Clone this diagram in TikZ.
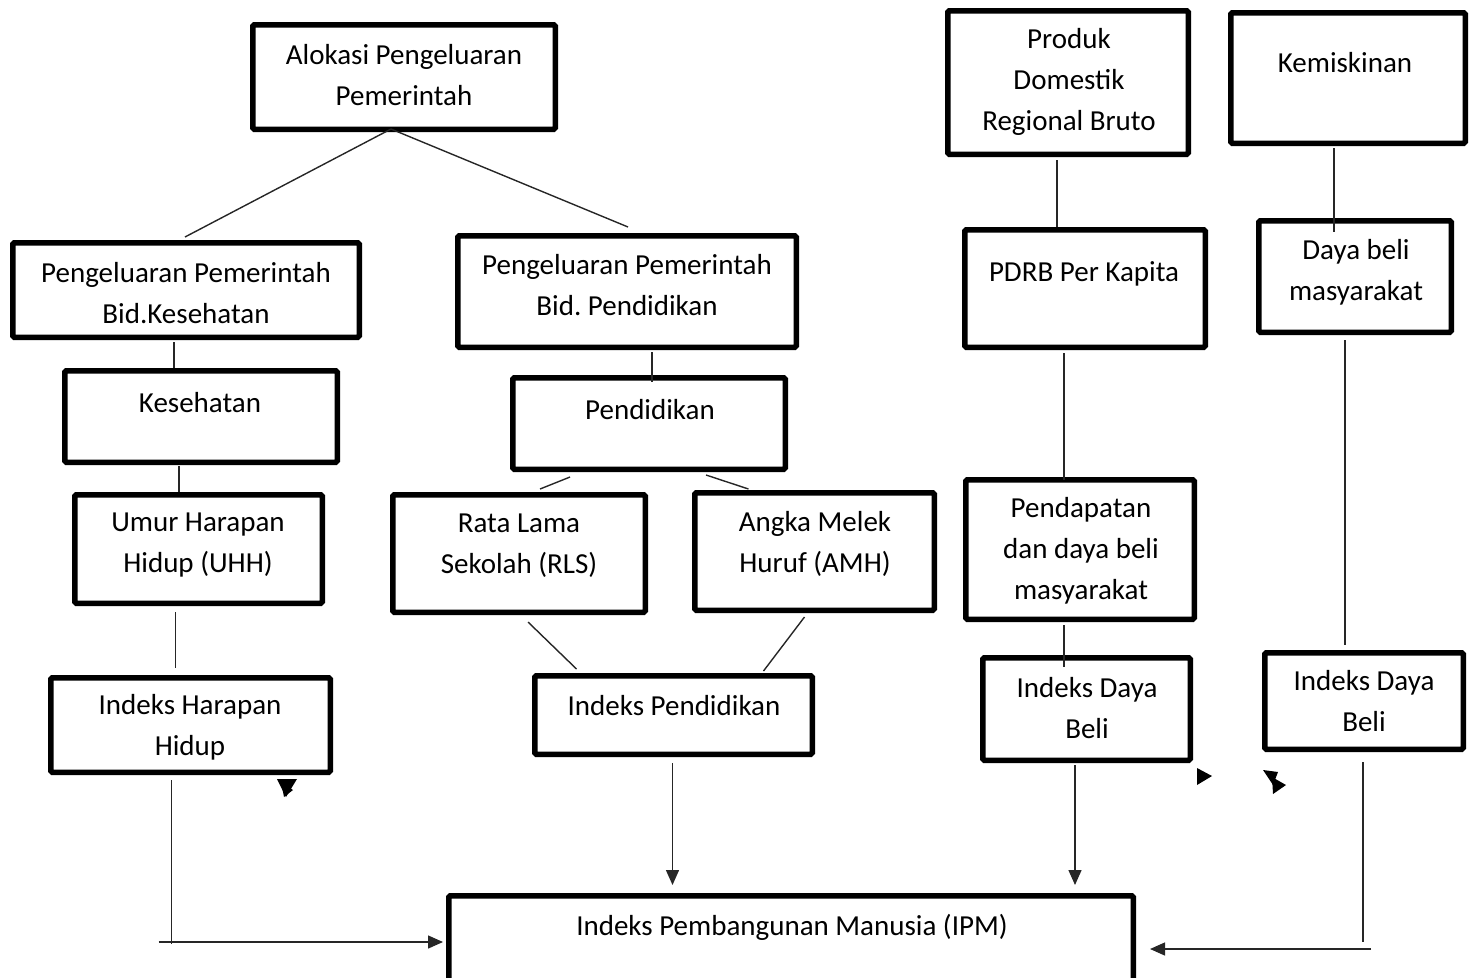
\documentclass[tikz,border=0pt]{standalone}
\usepackage{fontspec}
\setmainfont{Carlito}
\frenchspacing
\usetikzlibrary{calc,arrows.meta}
\tikzset{
  box/.style={draw=black, line width=5.5pt, rounded corners=1.5pt, inner sep=0pt},
  txt/.style={inner sep=0pt, align=center, font=\fontsize{29}{41}\selectfont},
  conn/.style={draw=black!85, line width=1.4pt},
  arr/.style={conn, -{Triangle[length=15pt,width=13pt]}},
  tip/.style={fill=black}
}
\newcommand\mkbox[5]{\node[box, minimum width={#3-#1-5.5}, minimum height={#4-#2-5.5}] (#5) at ({(#1+#3)/2},{(#2+#4)/2}) {};}
\begin{document}
\begin{tikzpicture}[x=1pt,y=-1pt]
\useasboundingbox (0,0) rectangle (1472,977);
% boxes
\mkbox{250}{22}{558}{132}{alok}
\mkbox{945}{8}{1191}{157}{prod}
\mkbox{1228}{10}{1468}{146}{kemis}
\mkbox{10}{240}{362}{340}{pkes}
\mkbox{455}{233}{799}{350}{ppend}
\mkbox{962}{227}{1208}{350}{pdrb}
\mkbox{1256}{218}{1454}{335}{daya}
\mkbox{62}{368}{340}{465}{kes}
\mkbox{510}{375}{788}{472}{pend}
\mkbox{72}{492}{325}{606}{uhh}
\mkbox{390}{492}{648}{615}{rls}
\mkbox{692}{490}{937}{613}{amh}
\mkbox{963}{477}{1197}{622}{pdpt}
\mkbox{48}{675}{333}{775}{ihh}
\mkbox{532}{673}{815}{757}{ip}
\mkbox{980}{655}{1193}{763}{idb1}
\mkbox{1262}{650}{1466}{752}{idb2}
\mkbox{446}{893}{1136}{1005}{ipm}
% texts
\node[txt] (alok-t) at (404,75.5) {Alokasi Pengeluaran\\Pemerintah};
\node[txt] (prod-t) at (1069,82) {Produk\\Domestik\\Regional Bruto};
\node[txt] (kemis-t) at (1345,63) {Kemiskinan};
\node[txt] (pkes-t) at (186,293.5) {Pengeluaran Pemerintah\\Bid.Kesehatan};
\node[txt] (ppend-t) at (627,285.5) {Pengeluaran Pemerintah\\Bid. Pendidikan};
\node[txt] (pdrb-t) at (1084,274) {PDRB Per Kapita};
\node[txt] (daya-t) at (1356,272.5) {Daya beli\\masyarakat};
\node[txt] (kes-t) at (200,403) {Kesehatan};
\node[txt] (pend-t) at (650,410) {Pendidikan};
\node[txt] (uhh-t) at (198,545.5) {Umur Harapan\\Hidup (UHH)};
\node[txt] (rls-t) at (519,545.5) {Rata Lama\\Sekolah (RLS)};
\node[txt] (amh-t) at (815,543.5) {Angka Melek\\Huruf (AMH)};
\node[txt] (pdpt-t) at (1081,551) {Pendapatan\\dan daya beli\\masyarakat};
\node[txt] (ihh-t) at (190,727.5) {Indeks Harapan\\Hidup};
\node[txt] (ip-t) at (674,706) {Indeks Pendidikan};
\node[txt] (idb1-t) at (1087,708.5) {Indeks Daya\\Beli};
\node[txt] (idb2-t) at (1364,701.5) {Indeks Daya\\Beli};
\node[txt] (ipm-t) at (792,927) {Indeks Pembangunan Manusia (IPM)};
% connectors
\draw[conn] ($(alok.south)+(-13,-3)$) -- ($(pkes.north)+(-1,-3)$);
\draw[conn] ($(alok.south)+(-13,-3)$) -- ($(ppend.north)+(1,-6)$);
\draw[conn] ($(prod.south)+(-11,3)$) -- ($(prod.south |- pdrb.north)+(-11,0)$);
\draw[conn] ($(kemis.south)+(-14,2)$) -- ($(kemis.south |- daya.north)+(-14,14)$);
\draw[conn] ($(pkes.south)+(-12,2)$) -- ($(pkes.south |- kes.north)+(-12,0)$);
\draw[conn] ($(ppend.south)+(25,2)$) -- ($(ppend.south |- pend.north)+(25,7)$);
\draw[conn] ($(kes.south)+(-22,1)$) -- ($(kes.south |- uhh.north)+(-22,0)$);
\draw[conn] ($(pend.south)+(-79,5)$) -- ($(rls.north)+(21,-3)$);
\draw[conn] ($(pend.south)+(57,3)$) -- ($(amh.north)+(-66,-1)$);
\draw[conn] ($(rls.south)+(9,7)$) -- ($(ip.north)+(-97,-4)$);
\draw[conn] ($(amh.south)+(-10,4)$) -- ($(ip.north)+(90,-2)$);
\draw[conn] ($(uhh.south)+(-23,6)$) -- ($(uhh.south |- ihh.north)+(-23,-7)$);
\draw[conn] ($(pdrb.south)+(-21,3)$) -- ($(pdrb.south |- pdpt.north)+(-21,3)$);
\draw[conn] ($(daya.south)+(-10,5)$) -- ($(daya.south |- idb2.north)+(-10,-5)$);
\draw[conn] ($(pdpt.south)+(-16,3)$) -- ($(pdpt.south |- idb1.north)+(-16,12)$);
% to IPM
\coordinate (ihhc) at ($(ihh.south)+(-19,167)$);
\draw[conn] ($(ihh.south)+(-19,5)$) -- ($(ihhc)+(0,2)$);
\draw[arr] ($(ihhc)+(-13,0)$) -- ($(ihhc -| ipm.west)+(-3,0)$);
\draw[arr] ($(ip.south)+(-1,6)$) -- ($(ip.south |- ipm.north)+(-1,-8)$);
\draw[arr] ($(idb1.south)+(-11.5,2)$) -- ($(idb1.south |- ipm.north)+(-11.5,-8)$);
\coordinate (idb2c) at ($(idb2.south)+(-1,197)$);
\draw[conn] ($(idb2.south)+(-1,10)$) -- ($(idb2c)+(0,-7)$);
\draw[arr] ($(idb2c)+(8,0)$) -- ($(idb2c -| ipm.east)+(14,0)$);
% stray arrowheads
\fill[tip] (277,779) -- (297,779) -- (286,797) -- cycle;
\fill[tip] (281,782) -- (293,790) -- (284,797) -- cycle;
\fill[tip] (1197,768) -- (1197,785) -- (1212,776) -- cycle;
\fill[tip] (1263,770) -- (1278,772) -- (1273,785) -- cycle;
\fill[tip] (1272,777) -- (1273,794) -- (1286,785) -- cycle;
\end{tikzpicture}
\end{document}
